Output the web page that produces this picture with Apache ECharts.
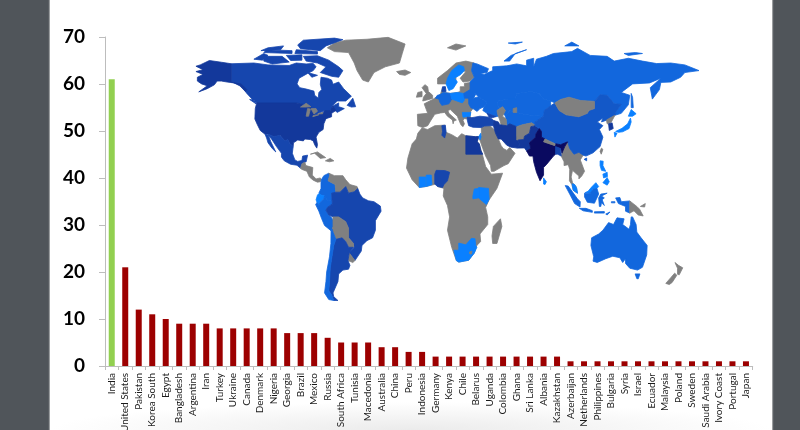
<!DOCTYPE html>
<html>
<head>
<meta charset="utf-8">
<title>Countries ranked by count</title>
<script src="https://cdn.jsdelivr.net/npm/echarts@6/dist/echarts.min.js"></script>
<style>
  html, body { margin: 0; padding: 0; width: 800px; height: 430px; overflow: hidden; background: #50555a; }
  #sheet { position: absolute; left: 50px; top: 0; width: 722px; height: 430px;
           background: radial-gradient(ellipse 360px 28px at 50% 100%, #ebebeb, #ffffff);
           box-shadow: -1px 0 1px #9a9d9f, 1px 0 1px #9a9d9f; }
  #chart { position: absolute; left: 0; top: 0; width: 800px; height: 430px; }
</style>
</head>
<body>
<div id="sheet"></div>
<div id="chart"></div>
<script>
// Ranked countries and their counts
const countries = ['India','United States','Pakistan','Korea South','Egypt','Bangladesh','Argentina','Iran','Turkey','Ukraine','Canada','Denmark','Nigeria','Georgia','Brazil','Mexico','Russia','South Africa','Tunisia','Macedonia','Australia','China','Peru','Indonesia','Germany','Kenya','Chile','Belarus','Uganda','Colombia','Ghana','Sri Lanka','Albania','Kazakhstan','Azerbaijan','Netherlands','Philippines','Bulgaria','Syria','Israel','Ecuador','Malaysia','Poland','Sweden','Saudi Arabia','Ivory Coast','Portugal','Japan'];
const counts = [61,21,12,11,10,9,9,9,8,8,8,8,8,7,7,7,6,5,5,5,4,4,3,3,2,2,2,2,2,2,2,2,2,2,1,1,1,1,1,1,1,1,1,1,1,1,1,1];
const yTicks = { min: 0, max: 70, step: 10 };

// Map shading groups
const NAVY = '#0a0a60', DEEP = '#13389b', STRONG = '#1646ae', CHINA_BLUE = '#1358c8', MID = '#1267dd', BRIGHT = '#0a80ff', GREY = '#808080';

// Land outlines as [name, fill, ...rings] in longitude/latitude, painted in order
const land = [
  ['Greenland', GREY, [[-73,78],[-68,76],[-58,75.5],[-54,70],[-52,66],[-48,61],[-44,60],[-40,65],[-32,68],[-22,70],[-20,75],[-18,80],[-30,83.5],[-45,82.5],[-60,82],[-68,80.5]]],
  ['Iceland', GREY, [[-24,65.5],[-18,66.3],[-14,65],[-18,63.5],[-22,64]]],
  ['Svalbard', GREY, [[12,78],[18,80],[25,79],[18,76.8]]],
  ['Canada', STRONG,
    [[-141,69.6],[-125,70],[-115,69],[-100,68.7],[-95,70],[-88,69.5],[-83,69.8],[-81,68],[-83,66],[-87,64.5],[-93,62],[-94.5,59],[-92.5,57],[-88,56.3],[-82.5,55.2],[-82,53],[-79.5,51.5],[-79,54.5],[-77,56],[-78,58.8],[-77.5,62.5],[-73,62],[-70,61],[-69,58.8],[-65,60],[-61.5,56.5],[-56,52.5],[-60,50],[-66,50],[-70,47],[-65,49],[-65,47],[-61,46],[-66,44],[-67.5,45],[-69,47.3],[-71,45],[-75,45],[-79,43.5],[-83,42],[-82.5,45],[-88,48],[-95,49],[-123,49],[-125,50],[-130,54],[-134,58],[-137,59],[-141,60]],
    [[-90,73.5],[-80,73.8],[-72,71.5],[-65,68],[-62,66],[-65,62.5],[-70,63],[-78,65],[-74,68],[-80,70],[-88,71]],
    [[-118,73.5],[-105,73.5],[-100,70.5],[-112,69.5],[-118,71]],
    [[-125,72],[-118,75],[-115,74],[-119,71.5]],
    [[-102,74],[-91,74.3],[-91,71.5],[-99,71.3]],
    [[-118,75.5],[-98,75],[-98,76.5],[-116,77]],
    [[-96,75],[-80,74.7],[-80,76],[-95,77]],
    [[-92,77.5],[-78,76.5],[-74,79],[-62,82.3],[-68,83.1],[-90,82],[-94,79.5]],
    [[-120,76.5],[-106,77],[-104,79],[-115,78]],
    [[-87,65],[-80,63.5],[-84,62.5]],
    [[-59,47.7],[-55,51.5],[-53,47],[-56,46.8]],
    [[-128,50.8],[-123.5,48.5],[-125,50.5]]],
  ['United States', DEEP,
    [[-123,49],[-95,49],[-88,48],[-84.5,46.5],[-82.5,45],[-82.5,42.5],[-79,43],[-76,44],[-75,45],[-71,45],[-69,47.3],[-67,45],[-70,43.5],[-70,41.7],[-74,40.7],[-75.5,38],[-76,35],[-79,33.5],[-81,31],[-80,27],[-80.5,25.2],[-82,27],[-83,29],[-85,29.7],[-89,30],[-90,29],[-94,29.5],[-97,28],[-97.2,26],[-99.5,27.5],[-101,29.7],[-103,29],[-106.5,31.8],[-111,31.3],[-114.8,32.5],[-117.1,32.5],[-120.5,34.5],[-122.5,37.5],[-124.3,40.5],[-124,46]],
    [[-141,69.6],[-148,70.4],[-156.5,71.3],[-163,69],[-166,68.3],[-161,66.5],[-166,65.5],[-161,64],[-165,62.5],[-165,60.5],[-162,59],[-158,58],[-164,54.8],[-158,56.5],[-153,58.5],[-151,60.5],[-148,60.5],[-144,60],[-139,59.5],[-135,58],[-131,55],[-130,56],[-134,59],[-137,59.3],[-141,60]]],
  ['Great Lakes', GREY,
    [[-92,46.8],[-88,48.8],[-84.7,47],[-85,46.5],[-88,46.8]],
    [[-88,42],[-87,46],[-85,45.8],[-86.3,42]],
    [[-84.5,46],[-81,46],[-80,44.6],[-82.5,43.2],[-83.5,44.5]],
    [[-83.3,41.7],[-79,42.8],[-79,43],[-83,42.4]],
    [[-79.7,43.3],[-76.3,44],[-76.3,43.3],[-79,43.2]]],
  ['Mexico', STRONG,
    [[-114.8,32.5],[-111,31.3],[-106.5,31.8],[-103,29],[-101,29.7],[-99.5,27.5],[-97.2,26],[-97.8,22.5],[-96,19],[-94,18.2],[-91,18.7],[-90.5,21],[-87,21.5],[-88,18],[-89,17.8],[-91,17],[-92,14.6],[-94.5,16.2],[-99,16.7],[-103.5,18.5],[-105.5,20.5],[-105.5,22.5],[-109,26],[-112.5,30],[-114.6,31.7]],
    [[-117.1,32.5],[-114.8,32],[-113,28.5],[-109.5,23.2],[-112,25],[-115,28],[-116,30.5]]],
  ['Central America', GREY, [[-92,14.6],[-91,17],[-89,17.8],[-88.2,16],[-83.3,15],[-83.7,11],[-81,9],[-78,9.5],[-77.3,8.5],[-78,7.5],[-80,7.3],[-83,8.3],[-85.7,10],[-87.5,13],[-91,14]]],
  ['Caribbean', GREY,
    [[-85,22],[-80,23.2],[-74.2,20.2],[-78,19.8],[-82,22.5]],
    [[-74.4,18.5],[-71,19.8],[-68.4,18.5],[-71.5,18]]],
  ['Colombia', MID, [[-77.3,8.5],[-75.5,10.7],[-72,12],[-71.3,11],[-72.5,8],[-70,7],[-67.5,6],[-67,2],[-70,1.5],[-69.5,-4.2],[-70.5,-2.5],[-73,-2.3],[-75,0],[-77.5,0.5],[-79,1.5],[-77.5,4],[-77.5,7]]],
  ['Ecuador', BRIGHT, [[-78.8,1.4],[-77.5,0.5],[-75,0],[-75.5,-1.5],[-78.3,-3.5],[-79,-5],[-80.3,-3.4],[-81,-2],[-80,0.5]]],
  ['Peru', MID, [[-81.3,-4.5],[-80.3,-3.4],[-79,-5],[-78.3,-3.5],[-75.5,-1.5],[-75,0],[-73,-2.3],[-70.5,-2.5],[-69.5,-4.2],[-73,-6],[-74,-7.5],[-72,-10],[-70.5,-11],[-69,-12.5],[-69,-16],[-69.5,-17.5],[-70.4,-18.3],[-75,-15.5],[-77,-12],[-79,-8]]],
  ['Venezuela and Guianas', GREY, [[-72,12],[-68,10.7],[-62,10.7],[-60,8.5],[-57,6],[-52,5],[-51.5,4],[-54,2.2],[-58,1.5],[-60,5],[-64,2],[-67,2],[-67.5,6],[-70,7],[-72.5,8],[-71.3,11]]],
  ['Brazil', STRONG, [[-51.5,4],[-50,1],[-48,-1],[-44,-2.5],[-40,-3],[-35.5,-5.3],[-35,-8],[-39,-13],[-39,-18],[-41,-22],[-45,-23.5],[-48.5,-26],[-49,-29],[-53.5,-34],[-57.5,-30],[-54,-27],[-54.5,-25],[-58,-22],[-58,-17],[-60,-13.5],[-65,-11],[-69,-11],[-72,-10],[-74,-7.5],[-73,-6],[-69.5,-4.2],[-70,1.5],[-67,2],[-64,2],[-60,5],[-58,1.5],[-54,2.2]]],
  ['Bolivia and Paraguay', GREY, [[-69,-12.5],[-69,-11],[-65,-11],[-60,-13.5],[-58,-17],[-58,-22],[-54.5,-25],[-54.5,-27],[-58,-27],[-60,-24],[-62.5,-22],[-67,-22.8],[-69,-19],[-69.5,-17.5],[-69,-16]]],
  ['Uruguay', GREY, [[-57.5,-30],[-53.5,-34],[-55,-35],[-58.4,-34]]],
  ['Argentina', STRONG, [[-58,-27],[-54.5,-27],[-57.5,-30],[-58.4,-34],[-57,-36.5],[-58,-38.5],[-62,-39],[-65,-41],[-65.5,-45],[-69,-51],[-68.5,-53],[-65.5,-55],[-68.5,-55],[-70,-52],[-72,-50],[-71.5,-45],[-71,-38],[-70,-33],[-68.5,-26],[-67,-22.8],[-62.5,-22],[-60,-24]]],
  ['Chile', MID, [[-70.4,-18.3],[-69.5,-17.5],[-69,-19],[-67,-22.8],[-68.5,-26],[-70,-33],[-71,-38],[-71.5,-45],[-72,-50],[-70,-52],[-68.5,-55],[-72,-54.5],[-75,-51],[-74,-45],[-73.5,-40],[-71.5,-32],[-70.5,-25]]],
  ['Africa', GREY, [[-6,35.8],[-2,35],[3,37],[10,37.3],[11,33.5],[15,32.3],[19,30.5],[22,32.8],[25,31.7],[32,31.2],[34.2,31.3],[33,28.5],[34.5,27.5],[37,21],[39,15.5],[43,11.5],[51,12],[47,4],[41.5,-2],[39,-6],[40.5,-11],[40.5,-15],[35,-20],[35.5,-24],[32.8,-26],[31,-30],[27,-33.8],[20,-34.8],[18.3,-34],[15,-27],[12,-18],[13.5,-11],[12,-5],[9,0],[9.5,4],[5,5],[4,6.3],[-3,5],[-8,4.5],[-13,8.5],[-17,14.7],[-16,20],[-13,27.5],[-10,30],[-9,33]]],
  ['Madagascar', GREY, [[49.5,-12],[50.5,-16],[47,-25],[44,-25],[43.5,-21],[44.5,-16]]],
  ['Arabia', GREY, [[34.9,29.5],[36,32],[36,36],[38,36.8],[42,37],[45,35],[48,30],[50,26.5],[51.5,25],[54,24],[56,25.5],[59.8,22.5],[55,17],[52,16],[45,13],[43,13],[42.5,16],[39,21],[37,25]]],
  ['Egypt', DEEP, [[25,31.7],[32,31.2],[34.2,31.3],[33,28.5],[34.5,27.5],[35.5,24],[37,22],[25,22]]],
  ['Tunisia', STRONG, [[8,37],[10.5,37.3],[11,33.5],[10,30.5],[8,32],[8.5,34]]],
  ['Nigeria', STRONG, [[3,6.3],[5,5],[8.5,4.5],[9.5,6],[12,8],[13.5,12.5],[10,13.4],[4,13.5],[3,11.5]]],
  ['Ghana', BRIGHT, [[-3,5],[1,6],[0.5,11],[-3,11]]],
  ['Ivory Coast', BRIGHT, [[-8,4.5],[-3.4,5],[-3.4,10],[-8,10]]],
  ['Kenya', BRIGHT, [[34,4.5],[41,4],[41.5,-1.7],[39.5,-4.5],[34,-1]]],
  ['Uganda', BRIGHT, [[30,0],[31,3.7],[34,4],[34,-1],[30,-1.5]]],
  ['South Africa', BRIGHT, [[16.5,-28.6],[20,-28.5],[20,-24.8],[25,-25.7],[29,-22.3],[31.5,-22.5],[32,-26],[32.8,-27],[31,-30],[27,-33.8],[20,-34.8],[18.3,-34]]],
  ['Lesotho', GREY, [[27.5,-29.5],[29.3,-29],[29,-30.5],[27.8,-30.5]]],
  ['Europe', GREY, [[-9,37],[-9.3,43],[-2,43.5],[-4.5,48.5],[1.5,50.8],[4,52],[7,53.5],[8.5,57],[10.5,57.5],[10,54.5],[14,54],[19,54.5],[21,55],[21,57.5],[24,57.5],[24,59.3],[28,59.7],[30,60],[30,50],[30,46],[28.5,44.5],[28,42],[29,41.2],[26,40.5],[24,40.8],[23,39.8],[24,38],[23,36.5],[21.5,37.5],[19.5,41],[19,42],[14,45.5],[12.3,45],[13,43.5],[18.3,40],[16.5,39.5],[16,38],[15.5,40],[12,42],[10,44],[7,43.7],[3,43],[0,39.5],[-2,37],[-5.5,36]]],
  ['Nordics', GREY, [[5,59],[5,62],[12,66],[18,70],[25,71],[31,70],[29,66],[31,62.5],[28,60.5],[23,60],[21,62],[25,65.5],[22,66],[18,62.5],[18,60],[12,59]]],
  ['Britain and Ireland', GREY,
    [[-5.5,50],[1.5,51.3],[1.5,53],[-1.5,55],[-2,57.5],[-4,58.6],[-6,57],[-3,54],[-5,52]],
    [[-10,52],[-6,52.3],[-6,55],[-9,54.5]]],
  ['Sweden', BRIGHT, [[11,59],[13,55.5],[16,56.5],[19,60],[17,62],[21.5,64],[24,66],[23.5,68],[20,69],[15,66],[12,62]]],
  ['Netherlands', MID, [[3.5,51.5],[4.8,53],[7,53.4],[6,51]]],
  ['Denmark', STRONG, [[8,55],[8.5,57.5],[10.5,57.5],[11,55]]],
  ['Germany', MID, [[6,51],[7,53.5],[9,54.5],[14,54],[15,51],[13,48.5],[8,47.7],[6.5,49.5]]],
  ['Poland', BRIGHT, [[14,54],[19,54.5],[23.5,54],[24,50.5],[22.5,49],[15,51]]],
  ['Belarus', MID, [[23.5,54],[28,56],[32,53.5],[30.5,51.5],[24,51.5]]],
  ['Ukraine', MID, [[27,51.5],[30.5,51.5],[34,52.3],[40,49.5],[38,47],[35,46],[33,44.5],[30,46],[28.5,46.5],[27,48.5]]],
  ['Bulgaria', BRIGHT, [[22.5,44],[28.5,44],[28,42],[23,41.5]]],
  ['Russia', MID,
    [[30,70],[33,69.5],[41,67],[40,65],[35,64.5],[38,64],[44,66],[44,68],[54,68.5],[61,69.5],[68,68.5],[68,71.5],[73,72.5],[73,68],[75,72],[82,73.5],[87,75],[100,76],[104,77.7],[113,74],[125,73.5],[130,71],[140,72.5],[150,71],[160,69.7],[170,70],[180,69],[190,66],[180,65],[177,62.5],[170,60],[163,59.8],[162,56],[157,51],[155.5,57],[163,62],[155,59.5],[143,59],[135,54.5],[141,53],[140,48],[135,43.5],[131,42.6],[131,44],[135,48.3],[130,48.5],[125,53],[120,53.3],[116,49.8],[106,50.3],[98,52],[92,50.8],[88,49],[85,50],[80,51],[77,54],[71,55],[61,54],[60,51],[55,51],[48,50],[47,48],[49,46],[47,45],[48,42],[46.5,41.8],[40,43.5],[37,45],[38,47],[40,49.5],[34,52.3],[32,53.5],[28,56],[28,60],[31,62.5],[29,66]],
    [[52,71],[57,74],[68,77],[60,75],[56,71]],
    [[55,80.5],[65,81],[60,80]],
    [[95,79],[105,79],[100,81]],
    [[137,75],[145,75.5],[150,75],[140,74]],
    [[142,54],[143,52],[143.5,46.5],[142,46.5],[142,50]]],
  ['Kazakhstan', MID, [[47,48],[48,50],[55,51],[60,51],[61,54],[71,55],[77,54],[80,51],[85,50],[85,47.5],[80.5,45],[80,42],[71,42.5],[66,43],[61,44],[56,45],[53,42],[51,44],[53,45],[51,47],[49,46]]],
  ['Central Asia', MID, [[53,42],[56,45],[61,44],[66,43],[71,42.5],[80,42],[74,39],[74,37],[71.5,38.5],[65,37.5],[61,36.5],[56,38],[54,37],[53.5,40.5]]],
  ['Inland seas', GREY,
    [[47,45],[51,47],[53,45],[51,42],[53.5,40.5],[54,37],[50,37.3],[49,40],[47.5,43]],
    [[58.5,46],[61,46.5],[61,44],[58.5,44]]],
  ['Turkey', STRONG, [[26,40],[26,41.5],[29,41.2],[35,42],[41.5,41.5],[44.8,39.7],[44.5,37],[42,37],[38,36.8],[36,36],[30,36.2],[27,37]]],
  ['Georgia', STRONG, [[40,43.5],[46.5,41.8],[43,41],[41.5,41.5]]],
  ['Israel', BRIGHT, [[34.2,31.3],[35.5,33],[35.8,31],[35,29.5]]],
  ['Iran', DEEP, [[44.8,39.7],[48,39],[49,37.5],[54,37],[56,38],[61,36.5],[61,31.5],[62,29.5],[63,27],[61.5,25.2],[57,25.7],[54,26.7],[50,30],[48,30],[46,33],[44.5,37]]],
  ['Afghanistan', GREY, [[61,36.5],[65,37.5],[71.5,38.5],[74,37.3],[71,36.5],[70,33],[66.5,31.5],[66,29.7],[61,29.5],[61,31.5]]],
  ['Pakistan', DEEP, [[61.5,25.2],[63,27],[62,29.5],[66,29.7],[66.5,31.5],[70,33],[71,36.5],[74,37],[77,35.5],[74.5,32.5],[74.5,31],[70,28],[71,25],[68,23.7],[66.5,25.3]]],
  ['Southeast Asia', GREY, [[92.5,21],[93,22.5],[95,26],[97,28.5],[98.5,25],[101.5,22],[105,23],[108,21.5],[106,19],[109,13],[107,10.5],[105,9],[105,10.5],[102,12.5],[100.5,13.5],[99.5,10],[100.5,7],[103,5],[104,1.5],[101,3],[100,6],[98.3,8],[98.5,14],[97.5,16.5],[94.5,16],[94.5,18]]],
  ['China', CHINA_BLUE,
    [[74,39],[80,42],[80.5,45],[85,47.5],[88,49],[91,45],[96,42.7],[105,41.7],[111,43.5],[112,45],[116,46],[116,49.8],[120,53.3],[125,53],[130,48.5],[135,48.3],[131,44],[131,42.6],[125,40],[121,39],[122,41],[118,39],[122,37],[119.5,35],[122,31],[120,26],[115,22.7],[110,21],[108,21.5],[105,23],[101.5,22],[98.5,25],[97,28.5],[92,27],[88.5,27.5],[88,27.5],[81,30],[78.5,31],[78.5,34],[77,35.5],[74,37]],
    [[108.7,19.3],[110.5,20],[110.5,18.5]]],
  ['Mongolia', GREY, [[88,49],[91,45],[96,42.7],[105,41.7],[111,43.5],[112,45],[116,46],[116,49.8],[106,50.3],[98,52],[92,50.8]]],
  ['India', NAVY, [[68,23.7],[71,25],[70,28],[74.5,31],[74.5,32.5],[77,35.5],[78.5,34],[78.5,31],[81,30],[80,28.5],[88,26.5],[88.5,27.5],[92,27],[97,28.5],[95,26],[93,22.5],[92,25],[89.5,25.5],[88.5,22],[87,21],[82,16.5],[80,15],[80,11],[77.5,8],[75,12.5],[73,18],[72.5,21],[70,21]]],
  ['Nepal', GREY, [[80,28.5],[81,30],[88,27.5],[88,26.5]]],
  ['Bangladesh', STRONG, [[88.5,26],[92,25],[92.5,21],[90,22],[88.5,22]]],
  ['Sri Lanka', BRIGHT, [[80,9.5],[82,7.5],[81,6],[80,6.3]]],
  ['North Korea', GREY, [[124.5,40],[130.5,42.5],[128,39],[126,38],[125,38]]],
  ['Korea South', DEEP, [[126,38],[128.5,38.5],[129.3,35.5],[126.5,34.5]]],
  ['Japan', BRIGHT,
    [[131,34],[135.5,35.6],[139.5,38],[141.5,41],[142,39],[140.5,35.5],[136,33.8],[133,33.5]],
    [[130,33.5],[132,33],[130.5,31]],
    [[140,42],[142,45.5],[145.5,43.3],[143,42]]],
  ['Taiwan', GREY, [[121,25.2],[122,24.5],[120.8,22],[120,23.5]]],
  ['Philippines', BRIGHT,
    [[120,18.5],[122.2,18.3],[122,16],[124,13],[121,13.5],[120,16]],
    [[122,7],[125,9.7],[126.5,7.5],[125,5.7]],
    [[122,11.5],[125,12.5],[125.2,10.2],[122.5,9.5]]],
  ['Malaysia', BRIGHT,
    [[100.2,6.4],[102,6],[103.5,4],[104,1.4],[101,3]],
    [[109.5,1.8],[111.5,2.5],[114,4.7],[117,7],[119,5],[117.8,4],[115,3.5],[113,1.5]]],
  ['Indonesia', MID,
    [[95.3,5.5],[97.5,5.2],[104,-1.5],[106,-3],[105.8,-5.8],[102,-4],[98.5,1]],
    [[105.3,-6.5],[110,-6.5],[114.5,-7.7],[114.5,-8.6],[108,-7.8]],
    [[109,1.5],[113,1.5],[115,3.5],[117.8,4],[119,1],[116,-3.8],[111,-3.3],[109,-0.5]],
    [[119.5,-5.5],[119,-1],[120.5,1],[125,1.5],[121,0],[123,-1],[121.5,-2],[123,-5],[121,-3.5],[120.5,-5.5]],
    [[131,-1],[134,-0.8],[135,-3],[141,-2.6],[141,-9],[138,-8],[138,-5.5],[133,-4]],
    [[124,-9.5],[127,-8.4],[125,-10]],
    [[116,-8.3],[123,-8.2],[123,-9],[116,-9]],
    [[128,-3],[130.5,-3],[130.5,-3.6],[128,-3.6]]],
  ['Papua New Guinea', GREY,
    [[141,-2.6],[146,-5.5],[148,-7],[150.5,-10.5],[147,-10],[144,-7.8],[141,-9]],
    [[148.5,-5.5],[152,-4],[151.5,-5.8]]],
  ['Australia', MID,
    [[114,-22],[113.5,-26],[115.5,-32],[115,-34.3],[118,-35],[124,-33],[129,-31.7],[134,-32.5],[136,-35],[138,-33],[138,-35.5],[141,-38],[146.5,-39],[150,-37.5],[153,-31],[153.3,-26],[149,-22],[146,-19],[145.5,-15],[143,-11],[142,-11],[141.5,-15],[140.5,-17.5],[136,-15],[137,-12],[132,-11.5],[129.5,-15],[126,-14],[122,-18],[119,-20]],
    [[144.8,-41],[148.2,-41],[147,-43.6],[146,-43.5]]],
  ['New Zealand', GREY,
    [[173,-35],[175.5,-36.5],[178.5,-37.8],[176,-41.5],[174.8,-41.2],[174.8,-38]],
    [[172.8,-40.6],[174.3,-41.7],[171,-45.5],[169,-46.6],[166.5,-46],[170,-43]]]
];

// Assemble the outlines into a GeoJSON collection for the map series
const worldGeo = {
  type: 'FeatureCollection',
  features: land.map(([name, , ...rings]) => ({
    type: 'Feature',
    properties: { name },
    geometry: { type: 'MultiPolygon', coordinates: rings.map(r => [r.concat([r[0]])]) }
  }))
};
echarts.registerMap('world', worldGeo);

const chart = echarts.init(document.getElementById('chart'), null, { renderer: 'canvas' });
chart.setOption({
  animation: false,
  grid: { left: 105, right: 47.3, top: 37, bottom: 64, outerBoundsMode: 'none' },
  xAxis: {
    type: 'category',
    data: countries,
    axisLine: { lineStyle: { color: '#bdbdbd', width: 1 } },
    axisTick: { show: true, length: 4, interval: 0, alignWithLabel: false, lineStyle: { color: '#bdbdbd' } },
    axisLabel: { interval: 0, rotate: 90, margin: 7, fontFamily: 'Lato', fontSize: 10, color: '#1a1a1a' }
  },
  yAxis: {
    type: 'value',
    min: yTicks.min, max: yTicks.max, interval: yTicks.step,
    splitLine: { show: false },
    axisLine: { show: true, lineStyle: { color: '#bdbdbd', width: 1 } },
    axisTick: { show: true, length: 6, lineStyle: { color: '#bdbdbd' } },
    axisLabel: { margin: 20, fontFamily: 'Lato', fontWeight: 'bold', fontSize: 19, color: '#000' }
  },
  series: [
    {
      type: 'map',
      map: 'world',
      silent: true,
      z: 0,
      roam: false,
      selectedMode: false,
      left: 190.3, top: 36.4, width: 508.7, height: 266,
      boundingCoords: [[-170, 84], [190, -56]],
      label: { show: false },
      emphasis: { disabled: true },
      itemStyle: { areaColor: GREY, borderWidth: 0, borderColor: 'transparent' },
      // Each region is outlined in its own fill so neighbours meet without seams
      data: land.map(([name, fill]) => ({
        name,
        itemStyle: { areaColor: fill, borderColor: fill, borderWidth: 0.8 }
      }))
    },
    {
      type: 'bar',
      z: 5,
      barWidth: 6,
      silent: true,
      data: counts,
      itemStyle: {
        color: p => (p.dataIndex === 0 ? '#92d050' : '#9c0000')
      }
    }
  ]
});
</script>
</body>
</html>
